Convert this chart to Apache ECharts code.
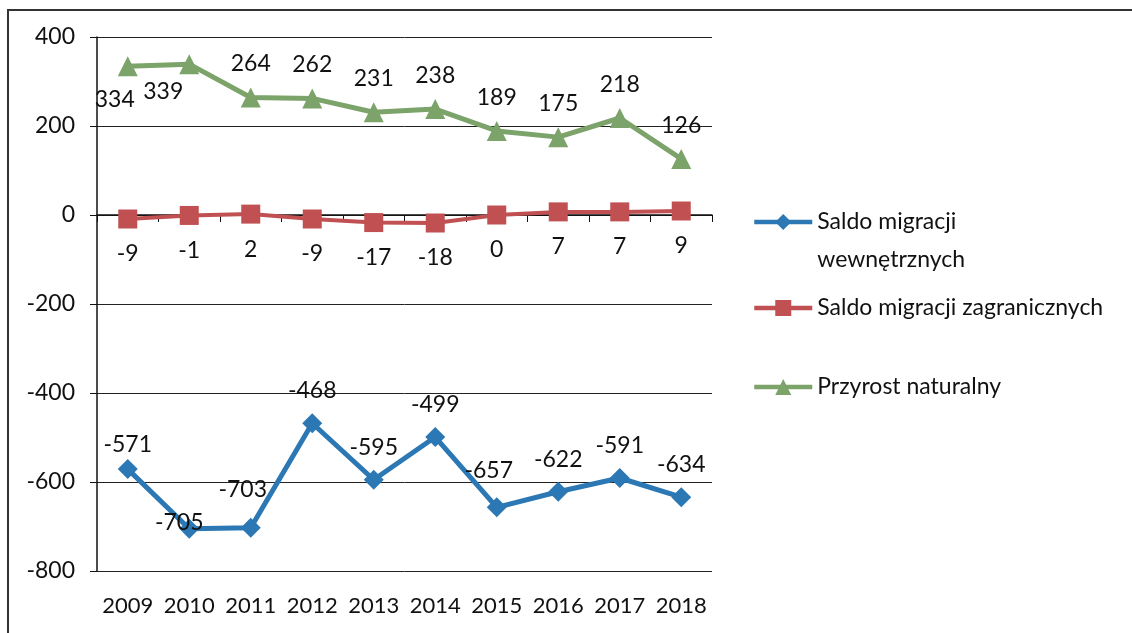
<!DOCTYPE html>
<html>
<head>
<meta charset="utf-8">
<script src="https://cdn.jsdelivr.net/npm/echarts@6/dist/echarts.min.js"></script>
<style>
  html, body { margin: 0; padding: 0; background: #fff; }
  #chart { width: 1132px; height: 633px; }
</style>
</head>
<body>
<div id="chart"></div>
<script>
var years = ['2009', '2010', '2011', '2012', '2013', '2014', '2015', '2016', '2017', '2018'];
var saldoWewn = [-571, -705, -703, -468, -595, -499, -657, -622, -591, -634];
var saldoZagr = [-9, -1, 2, -9, -17, -18, 0, 7, 7, 9];
var przyrost = [334, 339, 264, 262, 231, 238, 189, 175, 218, 126];
var yTicks = [-800, -600, -400, -200, 0, 200, 400];

var names = ['Saldo migracji wewnętrznych', 'Saldo migracji zagranicznych', 'Przyrost naturalny'];
var colors = ['#2B78B4', '#C05052', '#7BA36A'];

// label placement tweaks (Excel put some labels off to the side)
var greenLabel = [
  { position: 'bottom', offset: [-13, 0] },
  { position: 'bottom', offset: [-26, -6] },
  {}, {}, {}, {}, {}, {}, {}, {}
];
var blueLabel = [
  { offset: [0, 8] },
  { offset: [-10, 26] },
  { offset: [-8, -6] },
  {}, {}, {},
  { offset: [-8, -4] }, {}, {}, {}
];

function withLabels(values, tweaks) {
  return values.map(function (v, i) {
    var t = (tweaks && tweaks[i]) || {};
    var item = { value: v };
    if (t.position || t.offset) item.label = t;
    return item;
  });
}

var font = 'Lato, "Open Sans", sans-serif';
var fs = 23;
var chart = echarts.init(document.getElementById('chart'));

function legendBox(name, top, fmt) {
  var l = {
    left: 747, top: top, orient: 'vertical',
    data: [name],
    itemWidth: 58, itemHeight: 20,
    itemGap: 0,
    lineStyle: { width: 4.5 },
    textStyle: { fontSize: fs, color: '#111', fontFamily: font, lineHeight: 38 }
  };
  if (fmt) l.formatter = fmt;
  return l;
}

var option = {
  animation: false,
  backgroundColor: '#fff',
  textStyle: { fontFamily: font },
  graphic: [{
    type: 'rect',
    shape: { x: 8, y: 10, width: 1200, height: 700 },
    style: { fill: 'none', stroke: '#333', lineWidth: 2 },
    silent: true
  }],
  grid: { left: 97, right: 420, top: 37, bottom: 62 },
  legend: [
    legendBox(names[0], 160, function () { return ' \nSaldo migracji\nwewnętrznych'; }),
    legendBox(names[1], 284),
    legendBox(names[2], 363)
  ],
  xAxis: [
    {
      type: 'category',
      data: years,
      position: 'bottom',
      boundaryGap: true,
      axisLine: { onZero: true, lineStyle: { color: '#111', width: 1.5 } },
      axisTick: { show: true, length: 7, lineStyle: { color: '#111' } },
      axisLabel: { show: false }
    },
    {
      type: 'category',
      data: years,
      position: 'bottom',
      axisLine: { show: false },
      axisTick: { show: false },
      axisLabel: { interval: 0, hideOverlap: false, margin: 24, fontSize: 22, color: '#111', fontFamily: font }
    }
  ],
  yAxis: {
    type: 'value',
    min: yTicks[0],
    max: yTicks[yTicks.length - 1],
    interval: 200,
    axisLine: { show: true, lineStyle: { color: '#111', width: 1.5 } },
    axisTick: { show: true, length: 7, lineStyle: { color: '#111' } },
    axisLabel: { margin: 22, fontSize: fs, color: '#111', fontFamily: font },
    splitLine: { lineStyle: { color: '#222', width: 1 } }
  },
  series: [
    {
      name: names[0],
      type: 'line',
      data: withLabels(saldoWewn, blueLabel),
      symbol: 'diamond',
      symbolSize: 20,
      color: colors[0],
      lineStyle: { width: 5, color: colors[0] },
      label: { show: true, position: 'top', distance: 11, fontSize: fs, color: '#111', fontFamily: font }
    },
    {
      name: names[1],
      type: 'line',
      data: saldoZagr,
      symbol: 'rect',
      symbolSize: 19,
      color: colors[1],
      lineStyle: { width: 4, color: colors[1] },
      label: { show: true, position: 'bottom', distance: 14, fontSize: fs, color: '#111', fontFamily: font }
    },
    {
      name: names[2],
      type: 'line',
      data: withLabels(przyrost, greenLabel),
      symbol: 'triangle',
      symbolSize: 20,
      color: colors[2],
      lineStyle: { width: 5, color: colors[2] },
      label: { show: true, position: 'top', distance: 12, fontSize: fs, color: '#111', fontFamily: font }
    }
  ]
};

option && chart.setOption(option);
</script>
</body>
</html>
